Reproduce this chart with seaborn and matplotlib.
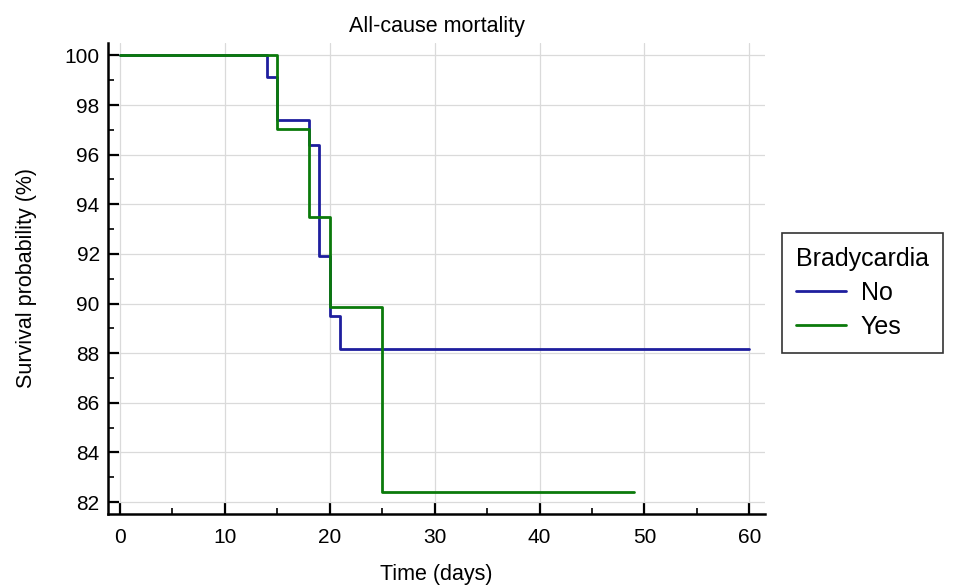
import pandas as pd
import matplotlib
matplotlib.use('Agg')
import matplotlib.pyplot as plt
import seaborn as sns
from matplotlib.ticker import MultipleLocator

# Kaplan-Meier step points (time in days, survival %)
no_time = [0, 14, 15, 18, 19, 20, 21, 60]
no_surv = [100, 99.14, 97.38, 96.4, 91.9, 89.48, 88.16, 88.16]
yes_time = [0, 15, 18, 20, 25, 49]
yes_surv = [100, 97.04, 93.48, 89.88, 82.42, 82.42]

df = pd.concat([
    pd.DataFrame({'time': no_time, 'surv': no_surv, 'Bradycardia': 'No'}),
    pd.DataFrame({'time': yes_time, 'surv': yes_surv, 'Bradycardia': 'Yes'}),
])

sns.set_style('white')
plt.rcParams['font.family'] = ['Liberation Sans', 'DejaVu Sans']
plt.rcParams['text.color'] = 'black'
plt.rcParams['axes.labelcolor'] = 'black'
plt.rcParams['xtick.color'] = 'black'
plt.rcParams['ytick.color'] = 'black'

fig = plt.figure(figsize=(9.64, 5.86), dpi=100)
ax = fig.add_axes([108 / 964, 1 - 514 / 586, (765 - 108) / 964, (514 - 43) / 586])

sns.lineplot(data=df, x='time', y='surv', hue='Bradycardia',
             palette={'No': '#1e1e9e', 'Yes': '#0b7a0b'},
             estimator=None, sort=False, drawstyle='steps-post',
             linewidth=2.0, ax=ax, legend=True)

ax.set_xlim(-1.15, 61.5)
ax.set_ylim(81.52, 100.5)
ax.xaxis.set_major_locator(MultipleLocator(10))
ax.xaxis.set_minor_locator(MultipleLocator(5))
ax.yaxis.set_major_locator(MultipleLocator(2))
ax.yaxis.set_minor_locator(MultipleLocator(1))

ax.grid(True, which='major', color='#dadada', linewidth=0.9)
ax.set_axisbelow(True)
for s in ['top', 'right']:
    ax.spines[s].set_visible(False)
for s in ['left', 'bottom']:
    ax.spines[s].set_color('black')
    ax.spines[s].set_linewidth(1.8)

ax.tick_params(axis='both', which='major', direction='in', length=8, width=1.6,
               labelsize=15)
ax.tick_params(axis='both', which='minor', direction='in', length=4, width=1.2)
ax.tick_params(axis='x', which='major', pad=10)
ax.tick_params(axis='y', which='major', pad=6)
ax.tick_params(axis='x', which='both', bottom=True)
ax.tick_params(axis='y', which='both', left=True)

ax.set_title('All-cause mortality', fontsize=15.5, pad=8)
ax.set_xlabel('Time (days)', fontsize=15.5, labelpad=12)
ax.set_ylabel('Survival probability (%)', fontsize=15.5, labelpad=20)

handles, labels = ax.get_legend_handles_labels()
ax.get_legend().remove()
leg = fig.legend(handles, labels, title='Bradycardia', loc='upper left',
                 bbox_to_anchor=(782 / 964, 1 - 233 / 586), borderaxespad=0,
                 fontsize=18, title_fontsize=18, frameon=True, fancybox=False,
                 edgecolor='black', borderpad=0.55, labelspacing=0.4,
                 handlelength=2.0, handletextpad=0.6)
leg.get_frame().set_linewidth(1.2)
leg._legend_box.align = 'left'

fig.savefig('out.png', dpi=100)
